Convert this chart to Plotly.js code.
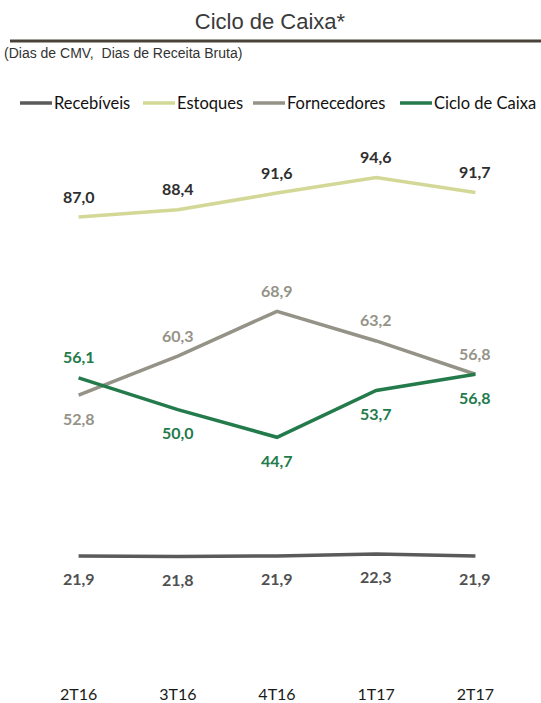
<!DOCTYPE html>
<html>
<head>
<meta charset="utf-8">
<script src="https://cdn.plot.ly/plotly-3.0.1.min.js"></script>
<style>html,body{margin:0;padding:0;background:#fff;}#chart{width:541px;height:703px;}</style>
</head>
<body>
<div id="chart"></div>
<script>
const categories = ["2T16", "3T16", "4T16", "1T17", "2T17"];
const recebiveis = [21.9, 21.8, 21.9, 22.3, 21.9];
const estoques = [87.0, 88.4, 91.6, 94.6, 91.7];
const fornecedores = [52.8, 60.3, 68.9, 63.2, 56.8];
const cicloCaixa = [56.1, 50.0, 44.7, 53.7, 56.8];
const seriesNames = ["Recebíveis", "Estoques", "Fornecedores", "Ciclo de Caixa"];

const colors = ["#5a5a5a", "#d3d897", "#959387", "#237a4b"];
const labelColors = ["#505050", "#2e2e2e", "#959387", "#237a4b"];
// label side per point: 1 = above, -1 = below
const labelSides = [
  [-1, -1, -1, -1, -1],
  [1, 1, 1, 1, 1],
  [-1, 1, 1, 1, 1],
  [1, -1, -1, -1, -1]
];
const allSeries = [recebiveis, estoques, fornecedores, cicloCaixa];

// plot geometry (px) used to place legend items in paper coords
const L = 29, W = 496, PB = 683, PH = 543;
const legendStartsPx = [20, 143, 253, 400];
const legendY = (PB - 103) / PH;
const px = v => (v - L) / W;

function fmt(v) { return v.toFixed(1).replace('.', ','); }

const traces = allSeries.map((vals, i) => ({
  x: categories,
  y: vals,
  name: seriesNames[i],
  type: 'scatter',
  mode: 'lines',
  line: { color: colors[i], width: 3.5 },
  hoverinfo: 'skip',
  showlegend: false
}));

const annotations = [];
allSeries.forEach((vals, i) => {
  vals.forEach((v, j) => {
    const side = labelSides[i][j];
    annotations.push({
      x: categories[j], y: v, xref: 'x', yref: 'y',
      text: '<b>' + fmt(v) + '</b>',
      showarrow: false,
      xanchor: 'center', yanchor: 'middle',
      yshift: side > 0 ? 21 : -23,
      font: { family: 'Lato, sans-serif', size: 16, color: labelColors[i] }
    });
  });
});

const shapes = [{
  type: 'line', xref: 'paper', yref: 'paper',
  x0: px(10), x1: px(545), y0: (PB - 41) / PH, y1: (PB - 41) / PH,
  line: { color: '#4a4238', width: 3 }
}];

seriesNames.forEach((name, i) => {
  const s = legendStartsPx[i];
  shapes.push({
    type: 'line', xref: 'paper', yref: 'paper',
    x0: px(s), x1: px(s + 32), y0: legendY, y1: legendY,
    line: { color: colors[i], width: 3.5 }
  });
  annotations.push({
    xref: 'paper', yref: 'paper', x: px(s + 32), y: legendY,
    xanchor: 'left', yanchor: 'middle', showarrow: false,
    text: name,
    font: { family: 'Lato, sans-serif', size: 16.5, color: '#111' }
  });
});

annotations.push({
  xref: 'paper', yref: 'paper', x: px(2), y: (PB - 53) / PH,
  xanchor: 'left', yanchor: 'middle', showarrow: false,
  text: '(Dias de CMV,  Dias de Receita Bruta)',
  font: { family: 'Liberation Sans, Arial, sans-serif', size: 14, color: '#333' }
});

const layout = {
  width: 541, height: 703,
  margin: { l: L, r: 541 - L - W, t: 140, b: 20 },
  paper_bgcolor: '#fff', plot_bgcolor: '#fff',
  title: {
    text: 'Ciclo de Caixa*',
    x: 0.499, xref: 'container', xanchor: 'center',
    y: 0.969, yref: 'container', yanchor: 'middle',
    font: { family: 'Liberation Sans, Arial, sans-serif', size: 22, color: '#3a3a3a' }
  },
  showlegend: false,
  xaxis: {
    type: 'category', range: [-0.5, 4.5],
    showgrid: false, zeroline: false, showline: false, ticks: '',
    tickfont: { family: 'Lato, sans-serif', size: 16, color: '#1a1a1a' },
    fixedrange: true
  },
  yaxis: {
    range: [-2.5, 101.8],
    showgrid: false, zeroline: false, showline: false, showticklabels: false, ticks: '',
    fixedrange: true
  },
  shapes: shapes,
  annotations: annotations
};

Plotly.newPlot('chart', traces, layout, { displayModeBar: false, staticPlot: true });
</script>
</body>
</html>
